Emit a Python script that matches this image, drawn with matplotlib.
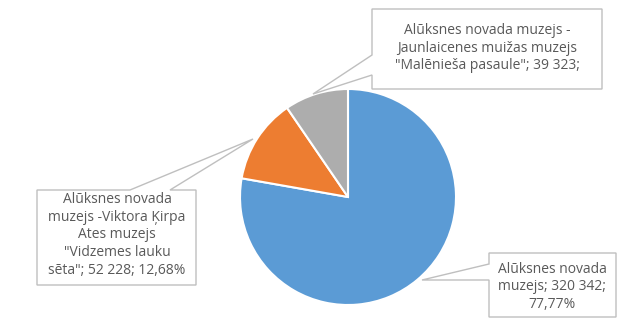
import matplotlib
matplotlib.use("Agg")
import matplotlib.pyplot as plt
from matplotlib.patches import Polygon

# ==========================
# Data
# ==========================
museums = [
    "Alūksnes novada muzejs",
    "Alūksnes novada muzejs -Viktora Ķirpa Ates muzejs \"Vidzemes lauku sēta\"",
    "Alūksnes novada muzejs - Jaunlaicenes muižas muzejs \"Malēnieša pasaule\"",
]
visitors = [320342, 52228, 39323]
colors = ["#5B9BD5", "#ED7D31", "#ADADAD"]

label_texts = [
    "Alūksnes novada\nmuzejs; 320 342;\n77,77%",
    "Alūksnes novada\nmuzejs -Viktora Ķirpa\nAtes muzejs\n\"Vidzemes lauku\nsēta\"; 52 228; 12,68%",
    "Alūksnes novada muzejs -\nJaunlaicenes muižas muzejs\n\"Malēnieša pasaule\"; 39 323;",
]

W, H = 643, 326
fig = plt.figure(figsize=(W / 100, H / 100), dpi=100)

# pie placed by pixel geometry
cx, cy, r = 348, 197, 108
ax = fig.add_axes([(cx - r) / W, (H - cy - r) / H, 2 * r / W, 2 * r / H])
ax.pie(visitors, colors=colors, startangle=90, counterclock=False,
       wedgeprops=dict(edgecolor="white", linewidth=1.5))
ax.set_xlim(-1, 1)
ax.set_ylim(-1, 1)
ax.set_aspect("equal")

# overlay in pixel coordinates for callouts
ov = fig.add_axes([0, 0, 1, 1])
ov.set_xlim(0, W)
ov.set_ylim(H, 0)
ov.axis("off")

callouts = [
    [(489, 253), (616, 253), (616, 317), (489, 317), (489, 280), (422, 280), (489, 264)],
    [(37, 190), (130, 190), (253, 139), (170, 190), (196, 190), (196, 285), (37, 285)],
    [(372, 9), (602, 9), (602, 89), (372, 89), (372, 75), (313, 94), (372, 55)],
]
text_pos = [(552, 287), (117, 235), (487, 48)]

for poly, txt, (tx, ty) in zip(callouts, label_texts, text_pos):
    ov.add_patch(Polygon(poly, closed=True, facecolor="white",
                         edgecolor="#BFBFBF", linewidth=1))
    ov.text(tx, ty, txt, ha="center", va="center", fontsize=10,
            color="#595959", linespacing=1.25, family="Open Sans")

fig.savefig("out.png", dpi=100)
